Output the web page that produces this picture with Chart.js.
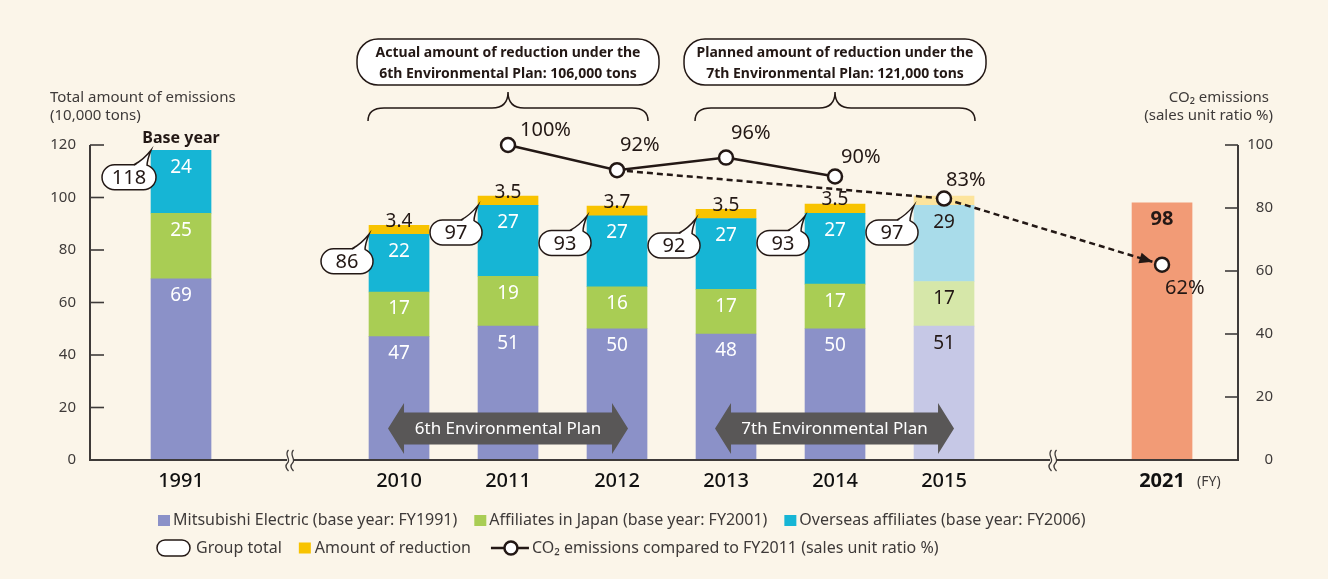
<!DOCTYPE html>
<html>
<head>
<meta charset="utf-8">
<script src="https://cdn.jsdelivr.net/npm/chart.js@4.4.1/dist/chart.umd.min.js"></script>
<style>
  html, body { margin: 0; padding: 0; background: #fbf5e9; }
  #wrap { width: 1328px; height: 579px; }
</style>
</head>
<body>
<div id="wrap"><canvas id="co2Chart" width="1328" height="579"></canvas></div>
<script>
// Fiscal years on the x axis (blank slots are the axis breaks)
const years = ['1991', '', '2010', '2011', '2012', '2013', '2014', '2015', '', '2021']
const barYears = ['1991', '2010', '2011', '2012', '2013', '2014', '2015']

// Emissions by group (10,000 tons)
const mitsubishiElectric = [69, 47, 51, 50, 48, 50, 51]
const affiliatesJapan = [25, 17, 19, 16, 17, 17, 17]
const overseasAffiliates = [24, 22, 27, 27, 27, 27, 29]
const groupTotal = [118, 86, 97, 93, 92, 93, 97]

const reductionYears = ['2010', '2011', '2012', '2013', '2014', '2015']
const reductionAmount = [3.4, 3.5, 3.7, 3.5, 3.5, 3.5]

const targetYears = ['2021']
const targetTotal = [98]

// CO2 emissions, sales unit ratio vs FY2011 (%)
const co2Years = ['2011', '2012', '2013', '2014']
const co2Ratio = [100, 92, 96, 90]
const co2PlanYears = ['2012', '2015', '2021']
const co2PlanRatio = [92, 83, 62]

const emissionTicks = [0, 20, 40, 60, 80, 100, 120]
const ratioTicks = [0, 20, 40, 60, 80, 100]

const planYear = '2015'

const FONT = '"Noto Sans", "DejaVu Sans", sans-serif'
const INK = '#231815'
const AXIS = '#3e3a39'
const BG = '#fbf5e9'

const colors = {
  melco: '#8b91c8',
  melcoPale: '#c6c8e6',
  japan: '#a9cd54',
  japanPale: '#d6e7a9',
  overseas: '#16b5d5',
  overseasPale: '#a9dcea',
  reduction: '#f8c300',
  reductionPale: '#fde49c',
  target: '#f29b76',
  planArrow: '#595757',
}

const idx = (year) => years.indexOf(year)
const planIdx = idx(planYear)
const points = (labels, values) => labels.map((year, i) => ({ x: idx(year), y: values[i] }))
const shade = (solid, pale) => (c) => (c.raw && c.raw.x === planIdx ? pale : solid)

function pill(ctx, x, y, w, h, r) {
  ctx.beginPath()
  ctx.moveTo(x + r, y)
  ctx.arcTo(x + w, y, x + w, y + h, r)
  ctx.arcTo(x + w, y + h, x, y + h, r)
  ctx.arcTo(x, y + h, x, y, r)
  ctx.arcTo(x, y, x + w, y, r)
  ctx.closePath()
}

function text(ctx, str, x, y, font, color, align) {
  ctx.font = font
  ctx.fillStyle = color
  ctx.textAlign = align || 'center'
  ctx.textBaseline = 'middle'
  ctx.fillText(str, x, y)
}

// speech bubble with its tail on the top-left corner of a bar
function drawCallout(ctx, tipX, tipY, label) {
  const cx = tipX - 22
  const cy = tipY + 27
  const w = label.length > 2 ? 54 : 52
  const h = 25
  ctx.save()
  ctx.lineWidth = 1.5
  ctx.strokeStyle = INK
  ctx.fillStyle = '#fff'
  pill(ctx, cx - w / 2, cy - h / 2, w, h, h / 2)
  ctx.fill()
  ctx.stroke()
  const b1 = { x: cx + 5, y: cy - h / 2 }
  const b2 = { x: cx + 18, y: cy - 11.5 }
  ctx.beginPath()
  ctx.moveTo(b1.x, b1.y + 2)
  ctx.lineTo(tipX, tipY)
  ctx.lineTo(b2.x - 1, b2.y + 3)
  ctx.closePath()
  ctx.fill()
  ctx.beginPath()
  ctx.moveTo(b1.x, b1.y)
  ctx.quadraticCurveTo(tipX - 8, tipY + 10, tipX, tipY)
  ctx.quadraticCurveTo(tipX - 4, tipY + 10, b2.x, b2.y)
  ctx.stroke()
  ctx.restore()
  text(ctx, label, cx, cy + 1, '20px ' + FONT, INK)
}

function drawBrace(ctx, x1, x2, yEnd, yFlat, yTip) {
  const xm = (x1 + x2) / 2
  const r = 16
  ctx.beginPath()
  ctx.moveTo(x1, yEnd)
  ctx.quadraticCurveTo(x1, yFlat, x1 + r, yFlat)
  ctx.lineTo(xm - r, yFlat)
  ctx.quadraticCurveTo(xm, yFlat, xm, yTip)
  ctx.quadraticCurveTo(xm, yFlat, xm + r, yFlat)
  ctx.lineTo(x2 - r, yFlat)
  ctx.quadraticCurveTo(x2, yFlat, x2, yEnd)
  ctx.stroke()
}

function drawPlanArrow(ctx, x1, x2, cy, label) {
  const head = 16, headHalf = 25.5, bodyHalf = 16
  ctx.fillStyle = colors.planArrow
  ctx.beginPath()
  ctx.moveTo(x1, cy)
  ctx.lineTo(x1 + head, cy - headHalf)
  ctx.lineTo(x1 + head, cy - bodyHalf)
  ctx.lineTo(x2 - head, cy - bodyHalf)
  ctx.lineTo(x2 - head, cy - headHalf)
  ctx.lineTo(x2, cy)
  ctx.lineTo(x2 - head, cy + headHalf)
  ctx.lineTo(x2 - head, cy + bodyHalf)
  ctx.lineTo(x1 + head, cy + bodyHalf)
  ctx.lineTo(x1 + head, cy + headHalf)
  ctx.closePath()
  ctx.fill()
  text(ctx, label, (x1 + x2) / 2, cy + 1, '17px ' + FONT, '#fff')
}

function drawAxisBreak(ctx, x, y) {
  ctx.fillStyle = BG
  ctx.fillRect(x - 3, y - 3, 6, 6)
  ctx.strokeStyle = AXIS
  ctx.lineWidth = 1.3
  for (const dx of [-2.5, 2.5]) {
    const bx = x + dx
    ctx.beginPath()
    ctx.moveTo(bx + 1, y - 10)
    ctx.bezierCurveTo(bx - 4, y - 5, bx + 4, y - 1, bx, y + 3)
    ctx.bezierCurveTo(bx - 3, y + 6, bx - 1, y + 9, bx + 1, y + 11)
    ctx.stroke()
  }
}

const decorations = {
  id: 'decorations',
  beforeDraw(chart) {
    const { ctx } = chart
    ctx.save()
    ctx.fillStyle = BG
    ctx.fillRect(0, 0, chart.width, chart.height)
    ctx.restore()
  },
  afterDatasetsDraw(chart) {
    const { ctx, chartArea: area } = chart
    const xs = chart.scales.x
    const ys = chart.scales.y
    const ds = chart.data.datasets
    ctx.save()

    // values inside the stacked bars
    ds.forEach((set, di) => {
      if (!set.segment) return
      chart.getDatasetMeta(di).data.forEach((el, i) => {
        const p = set.data[i]
        const pale = p.x === planIdx
        if (set.segment === 'part') {
          text(ctx, String(p.y), el.x, el.y + 17, '19px ' + FONT, pale ? INK : '#fff')
        } else if (set.segment === 'reduction' && !pale) {
          text(ctx, String(p.y), el.x, el.y - 4, '19px ' + FONT, INK)
        } else if (set.segment === 'target') {
          text(ctx, String(p.y), el.x, el.y + 17, 'bold 20px ' + FONT, INK)
        }
      })
    })

    // group total callouts
    barYears.forEach((year, i) => {
      const tipX = xs.getPixelForValue(idx(year)) - 30
      const tipY = ys.getPixelForValue(groupTotal[i])
      drawCallout(ctx, tipX, tipY, String(groupTotal[i]))
    })

    // arrowhead at the end of the planned CO2 path
    const planMeta = chart.getDatasetMeta(1).data
    const a = planMeta[planMeta.length - 2]
    const b = planMeta[planMeta.length - 1]
    const len = Math.hypot(b.x - a.x, b.y - a.y)
    const ux = (b.x - a.x) / len, uy = (b.y - a.y) / len
    const tx = b.x - ux * 10, ty = b.y - uy * 10
    ctx.fillStyle = INK
    ctx.beginPath()
    ctx.moveTo(tx, ty)
    ctx.lineTo(tx - ux * 13 - uy * 5.5, ty - uy * 13 + ux * 5.5)
    ctx.lineTo(tx - ux * 13 + uy * 5.5, ty - uy * 13 - ux * 5.5)
    ctx.closePath()
    ctx.fill()

    // percentage labels
    const pctShift = [[12, -15], [3, -25], [5, -24], [6, -19]]
    chart.getDatasetMeta(0).data.forEach((el, i) => {
      text(ctx, co2Ratio[i] + '%', el.x + pctShift[i][0], el.y + pctShift[i][1], '20px ' + FONT, INK, 'left')
    })
    const planShift = [null, [2, -18], [3, 24]]
    planMeta.forEach((el, i) => {
      if (!planShift[i]) return
      text(ctx, co2PlanRatio[i] + '%', el.x + planShift[i][0], el.y + planShift[i][1], '20px ' + FONT, INK, 'left')
    })

    // environmental plan arrows
    drawPlanArrow(ctx, xs.getPixelForValue(idx('2010')) - 11, xs.getPixelForValue(idx('2012')) + 11, 428.5, '6th Environmental Plan')
    drawPlanArrow(ctx, xs.getPixelForValue(idx('2013')) - 11, xs.getPixelForValue(idx('2015')) + 10, 428.5, '7th Environmental Plan')

    // axes with inward ticks
    ctx.strokeStyle = AXIS
    ctx.lineWidth = 2
    ctx.beginPath()
    ctx.moveTo(area.left, ys.getPixelForValue(120))
    ctx.lineTo(area.left, area.bottom)
    ctx.lineTo(area.right, area.bottom)
    ctx.lineTo(area.right, ys.getPixelForValue(120))
    ctx.stroke()
    ctx.lineWidth = 1.6
    emissionTicks.forEach((v) => {
      const y = ys.getPixelForValue(v)
      ctx.beginPath(); ctx.moveTo(area.left, y); ctx.lineTo(area.left + 14, y); ctx.stroke()
    })
    ratioTicks.forEach((v) => {
      const y = chart.scales.y2.getPixelForValue(v)
      ctx.beginPath(); ctx.moveTo(area.right, y); ctx.lineTo(area.right - 13, y); ctx.stroke()
    })
    years.forEach((year, i) => {
      if (!year) drawAxisBreak(ctx, xs.getPixelForValue(i), area.bottom)
    })

    // reduction summaries above the plan periods
    const summaries = [
      ['2010', '2012', ['Actual amount of reduction under the', '6th Environmental Plan: 106,000 tons']],
      ['2013', '2015', ['Planned amount of reduction under the', '7th Environmental Plan: 121,000 tons']],
    ]
    summaries.forEach(([from, to, lines]) => {
      const x1 = xs.getPixelForValue(idx(from)) - 31
      const x2 = xs.getPixelForValue(idx(to)) + 31
      const xm = (x1 + x2) / 2
      ctx.strokeStyle = INK
      ctx.lineWidth = 1.5
      drawBrace(ctx, x1, x2, 121, 108, 92)
      ctx.fillStyle = '#fff'
      pill(ctx, xm - 151, 39, 302, 46, 21)
      ctx.fill()
      ctx.stroke()
      text(ctx, lines[0], xm, 53, 'bold 14px ' + FONT, INK)
      text(ctx, lines[1], xm, 74, 'bold 14px ' + FONT, INK)
    })

    // axis titles
    text(ctx, 'Total amount of emissions', 50, 98, '15px ' + FONT, AXIS, 'left')
    text(ctx, '(10,000 tons)', 50, 116, '15px ' + FONT, AXIS, 'left')
    text(ctx, 'CO₂ emissions', 1269, 98, '15px ' + FONT, AXIS, 'right')
    text(ctx, '(sales unit ratio %)', 1273, 116, '15px ' + FONT, AXIS, 'right')
    text(ctx, 'Base year', xs.getPixelForValue(0), 138, 'bold 16px ' + FONT, INK)
    text(ctx, '(FY)', 1197, 482, '14px ' + FONT, AXIS, 'left')

    drawLegend(ctx)
    ctx.restore()
  },
}

function drawLegend(ctx) {
  const font = '16px ' + FONT
  ctx.font = font
  const square = (x, y, color) => {
    ctx.fillStyle = color
    ctx.fillRect(x, y - 5.5, 12, 11)
  }
  // row 1
  let x = 158
  let y = 520.5
  const row1 = [
    [colors.melco, 'Mitsubishi Electric (base year: FY1991)'],
    [colors.japan, 'Affiliates in Japan (base year: FY2001)'],
    [colors.overseas, 'Overseas affiliates (base year: FY2006)'],
  ]
  row1.forEach(([color, label]) => {
    square(x, y, color)
    x += 15
    text(ctx, label, x, y, font, AXIS, 'left')
    x += ctx.measureText(label).width + 17
  })
  // row 2
  x = 157
  y = 548
  ctx.strokeStyle = INK
  ctx.lineWidth = 1.5
  ctx.fillStyle = '#fff'
  pill(ctx, x, y - 8, 33, 16, 8)
  ctx.fill()
  ctx.stroke()
  x += 39
  text(ctx, 'Group total', x, y, font, AXIS, 'left')
  x += ctx.measureText('Group total').width + 17
  square(x, y, colors.reduction)
  x += 16
  text(ctx, 'Amount of reduction', x, y, font, AXIS, 'left')
  x += ctx.measureText('Amount of reduction').width + 20
  ctx.strokeStyle = INK
  ctx.lineWidth = 2.5
  ctx.beginPath(); ctx.moveTo(x, y); ctx.lineTo(x + 38, y); ctx.stroke()
  ctx.fillStyle = '#fff'
  ctx.beginPath(); ctx.arc(x + 20, y, 6.5, 0, Math.PI * 2); ctx.fill(); ctx.stroke()
  x += 41
  text(ctx, 'CO₂ emissions compared to FY2011 (sales unit ratio %)', x, y, font, AXIS, 'left')
}

const config = {
  type: 'bar',
  data: {
    datasets: [
      {
        type: 'line',
        label: 'CO₂ emissions compared to FY2011',
        data: points(co2Years, co2Ratio),
        yAxisID: 'y2',
        order: 0,
        clip: false,
        borderColor: INK,
        borderWidth: 2.5,
        pointRadius: 7,
        pointBorderWidth: 2.5,
        pointBackgroundColor: '#fff',
        pointBorderColor: INK,
      },
      {
        type: 'line',
        label: 'CO₂ emissions plan',
        data: points(co2PlanYears, co2PlanRatio),
        yAxisID: 'y2',
        order: 0,
        clip: false,
        borderColor: INK,
        borderWidth: 2.5,
        borderDash: [6, 4],
        pointRadius: (c) => (c.dataIndex === 0 ? 0 : 7),
        pointBorderWidth: 2.5,
        pointBackgroundColor: '#fff',
        pointBorderColor: INK,
      },
      {
        label: 'Mitsubishi Electric',
        segment: 'part',
        data: points(barYears, mitsubishiElectric),
        backgroundColor: shade(colors.melco, colors.melcoPale),
        order: 1,
      },
      {
        label: 'Affiliates in Japan',
        segment: 'part',
        data: points(barYears, affiliatesJapan),
        backgroundColor: shade(colors.japan, colors.japanPale),
        order: 1,
      },
      {
        label: 'Overseas affiliates',
        segment: 'part',
        data: points(barYears, overseasAffiliates),
        backgroundColor: shade(colors.overseas, colors.overseasPale),
        order: 1,
      },
      {
        label: 'Amount of reduction',
        segment: 'reduction',
        data: points(reductionYears, reductionAmount),
        backgroundColor: shade(colors.reduction, colors.reductionPale),
        order: 1,
      },
      {
        label: 'FY2021 target',
        segment: 'target',
        data: points(targetYears, targetTotal),
        backgroundColor: colors.target,
        order: 1,
      },
    ],
  },
  options: {
    responsive: false,
    animation: false,
    devicePixelRatio: 1,
    layout: { padding: { top: 145, left: 0, right: 55, bottom: 0 } },
    datasets: { bar: { barThickness: 60, borderWidth: 0 } },
    plugins: {
      legend: { display: false },
      tooltip: { enabled: false },
    },
    scales: {
      x: {
        type: 'linear',
        stacked: true,
        offset: false,
        min: -0.835,
        max: 9.697,
        grid: { display: false, drawTicks: false },
        border: { display: false },
        afterBuildTicks: (axis) => {
          axis.ticks = years.map((_, i) => ({ value: i }))
        },
        afterFit: (axis) => {
          axis.height = 119
        },
        ticks: {
          autoSkip: false,
          maxRotation: 0,
          padding: 9,
          color: '#111',
          callback: (v) => years[v],
          font: (c) => ({
            family: FONT,
            size: 20,
            weight: c.tick && c.tick.label === '2021' ? 'bold' : '500',
          }),
        },
      },
      y: {
        position: 'left',
        stacked: true,
        min: 0,
        max: 120,
        grid: { display: false, drawTicks: false },
        border: { display: false },
        afterBuildTicks: (axis) => {
          axis.ticks = emissionTicks.map((v) => ({ value: v }))
        },
        afterFit: (axis) => {
          axis.width = 90
        },
        ticks: { padding: 14, color: AXIS, font: { family: FONT, size: 15 } },
      },
      y2: {
        position: 'right',
        min: 0,
        max: 100,
        grid: { display: false, drawTicks: false },
        border: { display: false },
        afterBuildTicks: (axis) => {
          axis.ticks = ratioTicks.map((v) => ({ value: v }))
        },
        afterFit: (axis) => {
          axis.width = 35
        },
        ticks: { crossAlign: 'far', padding: 8, color: AXIS, font: { family: FONT, size: 15 } },
      },
    },
  },
  plugins: [decorations],
}

window.co2Chart = new Chart(document.getElementById('co2Chart'), config)
</script>
</body>
</html>
